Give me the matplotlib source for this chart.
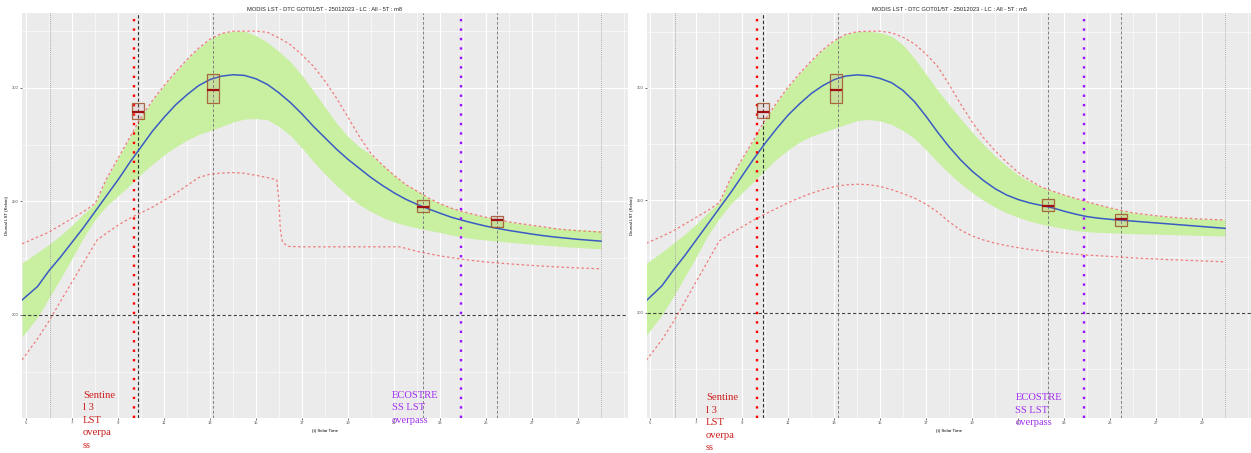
import numpy as np
import matplotlib
matplotlib.use("Agg")
import matplotlib.pyplot as plt
from matplotlib.ticker import MultipleLocator

plt.rcParams['font.family'] = ['Liberation Sans', 'DejaVu Sans']

########## data ##########
# solar time grid (h) for the modelled curves
hrs = np.concatenate([[4.83], np.arange(5.5, 30.01, 0.5)])

# panel m8 (left)
blue_m8 = [206.6, 212.5, 219.5, 225.5, 232, 238.5, 245.5, 252.5, 259.5, 267, 274, 281, 287, 292.5, 297, 301,
           303.7, 305.2, 305.8, 305.5, 304, 301.5, 297.8, 293.5, 288.5, 283, 278, 273, 268.5, 264.5, 260.5,
           257, 253.8, 251, 248.7, 246.7, 244.8, 243, 241.6, 240.3, 239.1, 238.1, 237.2, 236.4, 235.6, 234.9,
           234.3, 233.8, 233.3, 232.9, 232.5]
gup_m8 = [222.9, 227.5, 231, 235, 239.5, 244.5, 249, 260, 269, 278, 287, 294.5, 301, 307, 312.5, 317.5,
          321.5, 324, 325, 325, 323, 320, 316, 311.5, 305.5, 298.5, 291.5, 284.5, 278.5, 274, 270.5,
          266, 261.5, 257.5, 254.5, 251.5, 249, 247, 245.5, 244.2, 243, 242, 241, 240.2, 239.5, 238.8,
          238.2, 237.8, 237.5, 237.2, 237]
glo_m8 = [190.3, 199, 207.5, 216, 225, 234, 242, 248, 252.5, 257, 262, 266.5, 270.5, 274, 277, 279.5,
          281.2, 283, 285, 286.3, 286.5, 286, 283, 279, 273.5, 267.5, 262, 257, 252.5, 248.5, 245.5,
          243, 241, 239.5, 238.3, 237.3, 236.3, 235.2, 234.3, 233.5, 233, 232.5, 232, 231.6, 231.2, 230.8,
          230.4, 230, 229.7, 229.4, 229.1]
rup_m8 = [231.3, 234.3, 236.5, 239.5, 242.5, 245.5, 249, 260, 269, 278, 287, 294.5, 301, 307, 312.5, 317.5,
          321.5, 324, 325, 325, 325, 324.5, 322, 319, 314.5, 309.5, 303, 295.5, 287, 278.5, 271,
          266, 261.5, 257.5, 254.5, 251.5, 249, 247, 245.5, 244.2, 243, 242, 241, 240.2, 239.5, 238.8,
          238, 237.5, 237.1, 236.8, 236.5]
rlo_h_m8 = [4.83, 5.5, 6.0, 6.5, 7.0, 7.5, 8.09, 8.5, 9.0, 9.5, 10.0, 10.5, 11.0, 11.5, 12.0, 12.5, 13.0,
            13.5, 14.0, 14.5, 15.0, 15.5, 15.9, 16.0, 16.05, 16.15, 16.4, 17.0, 18.0, 19.0, 20.0, 21.0,
            21.26, 22.0, 23.0, 24.0, 25.0, 26.0, 27.0, 28.0, 29.0, 30.0]
rlo_m8 = [180.2, 189.5, 197.3, 206, 214.5, 223, 233, 236, 239.5, 242.5, 245, 247.5, 250.5, 253.5, 257,
          260.5, 262, 262.5, 262.7, 262.4, 261.5, 260.5, 259.5, 250, 238, 232, 230.2, 230, 230, 230, 230,
          230, 230, 228, 226, 224.5, 223.3, 222.5, 221.8, 221.2, 220.7, 220.3]
box_t_m8 = [9.87, 13.13, 22.26, 25.48]
box_lo_m8 = [286.3, 293.5, 245.4, 238.8]
box_med_m8 = [289.4, 299.1, 247.6, 241.7]
box_hi_m8 = [293.4, 306.0, 250.7, 243.7]

# panel m5 (right)
blue_m5 = [205.5, 212, 219, 225.5, 232.5, 239.5, 246.5, 253.5, 261, 268.5, 275.5, 282, 288, 293, 297.5, 301,
           303.7, 305.3, 305.8, 305.4, 304.2, 302.3, 298.8, 293.8, 287.3, 280.3, 273.8, 268, 263, 258.8, 255.2,
           252.4, 250.4, 248.9, 247.8, 246.7, 245.2, 243.9, 242.8, 242.1, 241.6, 241.2, 240.8, 240.4, 240,
           239.6, 239.2, 238.8, 238.4, 238, 237.6]
gup_m5 = [222.1, 227, 231, 235, 239.5, 244.5, 249, 260, 268.5, 277, 286, 293.5, 300.5, 306.5, 312, 317,
          321, 323.8, 325, 325.2, 324.6, 323, 319, 313, 306, 299, 292.5, 286.3, 280.3, 274.8,
          269.8, 265.3, 261.4, 258.4, 256, 254.1, 252.4, 250.9, 249.4, 248, 246.7, 245.5, 244.5, 243.8, 243.2,
          242.7, 242.3, 242, 241.7, 241.5, 241.3]
glo_m5 = [190.2, 199, 207.2, 216, 225, 234.5, 242, 248.5, 253.5, 258.5, 263.5, 268.5, 272.5, 276, 278.5,
          280.3, 282, 283.8, 285.5, 286, 285.3, 283.8, 281, 277.5, 272.5, 267, 262, 257.5, 253.5, 250, 247,
          244.5, 242.5, 240.8, 239.5, 238.5, 237.5, 236.7, 236.1, 235.8, 235.6, 235.4, 235.2, 235.1, 235,
          234.9, 234.7, 234.6, 234.4, 234.3, 234.2]
rup_m5 = [231, 234, 236.5, 239.5, 242.5, 245.5, 249, 260, 268.5, 277, 286, 293.5, 300.5, 306.5, 312, 317,
          321, 323.8, 325, 325.2, 325.2, 324.5, 322.5, 319.5, 315, 309.5, 301.5, 292.8, 284.8, 277.8, 272,
          267, 262.5, 259, 256, 254.1, 252.4, 250.9, 249.4, 248, 246.7, 245.5, 244.5, 243.8, 243.2,
          242.7, 242.3, 242, 241.7, 241.5, 241.3]
rlo_m5 = [179, 188, 196, 205, 214, 223, 232, 235.3, 238.3, 241.3, 244, 246.5, 249, 251.2, 253.2, 254.8,
          256.1, 256.9, 257.2, 257, 256.2, 254.8, 253, 251, 248.3, 244.8, 240.5, 236.8, 234.2, 232.4, 231,
          229.9, 229, 228.2, 227.6, 227.1, 226.6, 226.1, 225.7, 225.4, 225.1, 224.8, 224.5, 224.2, 224,
          223.7, 223.5, 223.3, 223.1, 222.9, 222.7]
box_t_m5 = [9.89, 13.08, 22.28, 25.46]
box_lo_m5 = [286.5, 293.5, 245.5, 238.8]
box_med_m5 = [289.2, 299.1, 247.7, 241.8]
box_hi_m5 = [293.2, 306.1, 250.7, 243.9]

# reference times
vl_m8 = {'dotted': [6.04, 30.0], 'dashed': [13.13, 22.26, 25.48], 'black': 9.88, 'sentinel': 9.70, 'eco': 23.9}
vl_m5 = {'dotted': [6.06, 30.0], 'dashed': [13.15, 22.28, 25.47], 'black': 9.90, 'sentinel': 9.64, 'eco': 23.87}

########## plotting ##########
fig = plt.figure(figsize=(12.51, 4.53), dpi=100)
ax1 = fig.add_axes([22/1251, 35/453, 606/1251, 405/453])
ax2 = fig.add_axes([647/1251, 35/453, 604/1251, 405/453])

panels = [
    (ax1, 'm8', blue_m8, gup_m8, glo_m8, rup_m8, rlo_h_m8, rlo_m8, box_t_m8, box_lo_m8, box_med_m8, box_hi_m8,
     vl_m8, (4.826, 31.17), (154.6, 333.0), 166.5),
    (ax2, 'm5', blue_m5, gup_m5, glo_m5, rup_m5, hrs, rlo_m5, box_t_m5, box_lo_m5, box_med_m5, box_hi_m5,
     vl_m5, (4.855, 31.13), (153.3, 333.3), 164.2),
]

for (ax, tag, blue, gup, glo, rup, rlo_h, rlo, bt, blo, bmed, bhi, vl, xl, yl, ytxt) in panels:
    ax.set_facecolor('#EBEBEB')
    for s in ax.spines.values():
        s.set_visible(False)
    ax.set_xticks(np.arange(5, 29.5, 2))
    ax.xaxis.set_minor_locator(MultipleLocator(1))
    ax.set_yticks([200, 250, 300])
    ax.yaxis.set_minor_locator(MultipleLocator(25))
    ax.grid(which='major', color='white', lw=0.8)
    ax.grid(which='minor', color='white', lw=0.4)
    ax.set_axisbelow(True)
    ax.tick_params(which='major', length=1.5, width=0.5, color='#333333', labelsize=3,
                   labelcolor='#4D4D4D', pad=1)
    ax.tick_params(which='minor', length=0)

    ax.fill_between(hrs, glo, gup, color='#c8f0a0', lw=0, zorder=1)
    ax.plot(hrs, rup, color='#f06060', lw=0.9, ls=(0, (2, 2)), alpha=0.8, zorder=3)
    ax.plot(rlo_h, rlo, color='#f06060', lw=0.9, ls=(0, (2, 2)), alpha=0.8, zorder=3)
    ax.plot(hrs, blue, color='#3b5bc4', lw=1.1, zorder=4)

    for x in vl['dotted']:
        ax.axvline(x, color='#aaaaaa', lw=0.7, ls=(0, (1, 1)), zorder=2)
    for x in vl['dashed']:
        ax.axvline(x, color='#808080', lw=0.7, ls=(0, (3, 2)), zorder=2)
    ax.axvline(vl['black'], color='#333333', lw=0.8, ls=(0, (3, 2)), zorder=2)
    ax.axhline(200, color='#444444', lw=0.8, ls=(0, (3, 2)), zorder=2)
    ax.axvline(vl['sentinel'], color='red', lw=1.7, ls=(0, (1, 3)), zorder=5)
    ax.axvline(vl['eco'], color='#9b10ff', lw=1.7, ls=(0, (1, 3)), zorder=5)

    hi = np.array(bhi)
    lo = np.array(blo)
    ax.bar(bt, hi - lo, bottom=lo, width=0.52, color='#c08080', alpha=0.15, zorder=5)
    ax.bar(bt, hi - lo, bottom=lo, width=0.52, fill=False, edgecolor='#a0522d', lw=0.9, alpha=0.85, zorder=6)
    ax.hlines(bmed, np.array(bt) - 0.26, np.array(bt) + 0.26, color='#a01010', lw=1.6, zorder=7)

    ax.set_xlim(*xl)
    ax.set_ylim(*yl)
    ax.set_title(f"MODIS LST - DTC GOT01/5T - 25012023 - LC : All - 5T : {tag}", fontsize=4.15,
                 color='#222222', y=1.005, pad=0)
    ax.set_xlabel("(t) Solar Time", fontsize=3.2)
    ax.xaxis.set_label_coords(0.5, -0.026)
    ax.set_ylabel("Diurnal LST (Kelvin)", fontsize=3.2)
    ax.yaxis.set_label_coords(-0.021, 0.5)

    ax.text(vl['sentinel'] - 2.22, ytxt, "Sentine\nl 3\nLST\noverpa\nss", color='#cc1f1f',
            family='Liberation Serif', fontsize=7.7, va='top', ha='left', linespacing=1.5,
            clip_on=False, zorder=8)
    ax.text(vl['eco'] - 2.99, ytxt, "ECOSTRE\nSS LST\noverpass", color='#a030f0',
            family='Liberation Serif', fontsize=7.6, va='top', ha='left', linespacing=1.5,
            clip_on=False, zorder=8)

plt.savefig("out.png", dpi=100)
